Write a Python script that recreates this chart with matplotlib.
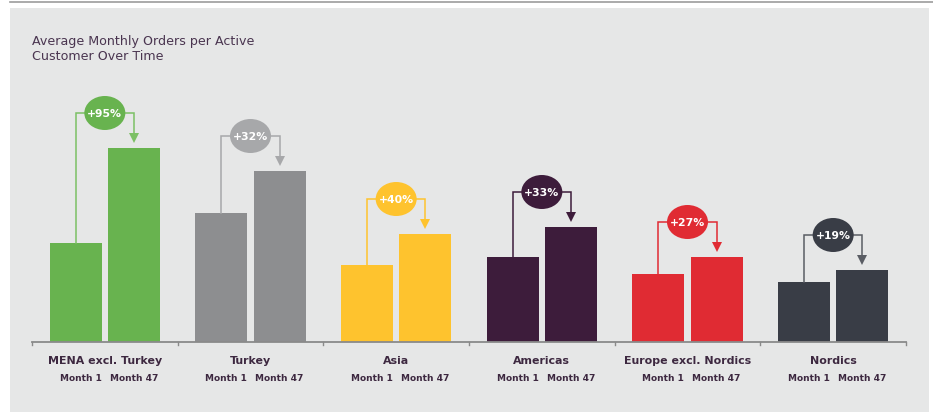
import numpy as np
import matplotlib.pyplot as plt
from matplotlib.patches import Ellipse, Rectangle
from matplotlib.lines import Line2D

# --- donnees (unites arbitraires) ---
regions = ["MENA excl. Turkey", "Turkey", "Asia", "Americas",
           "Europe excl. Nordics", "Nordics"]
month1 = [99, 129, 77, 85, 68, 60]
month47 = [194, 171, 108, 115, 85, 72]
growth = ["+95%", "+32%", "+40%", "+33%", "+27%", "+19%"]
period_labels = ["Month 1", "Month 47"]

bar_colors = ["#68b34f", "#8d8e90", "#fec32e", "#3d1c3b", "#e02b33", "#393d46"]
bubble_colors = ["#68b34f", "#a7a8aa", "#fec32e", "#3d1c3b", "#e02b33", "#393d46"]
line_colors = ["#7cc065", "#a7a8aa", "#fec32e", "#3d1c3b", "#e02b33", "#5a5d64"]

TEXT = "#3d2840"
PANEL = "#e6e7e7"

W, H = 933, 414
fig = plt.figure(figsize=(W / 100, H / 100), dpi=100)
fig.patch.set_facecolor("white")

# fond gris + filet du haut
fig.add_artist(Rectangle((10 / W, 1 - 413 / H), 919 / W, 404 / H,
                         transform=fig.transFigure, facecolor=PANEL,
                         edgecolor="none", zorder=-10))
fig.add_artist(Line2D([10 / W, 1], [1 - 3 / H, 1 - 3 / H],
                      transform=fig.transFigure, color="#9c9c9c", lw=1.2))

fig.text(32 / W, 1 - 35 / H, "Average Monthly Orders per Active\nCustomer Over Time",
         ha="left", va="top", fontsize=9.1, color="#4a3550", linespacing=1.15)

# axes : 1 unite y = 1 pixel
x0, x1, ybase, ytop = 32, 906, 343, 60
ax = fig.add_axes([x0 / W, 1 - ybase / H, (x1 - x0) / W, (ybase - ytop) / H])
ax.set_xlim(0, len(regions))
ax.set_ylim(0, ybase - ytop)
ax.axis("off")

px = len(regions) / (x1 - x0)  # unite x par pixel
n = len(regions)
centers = np.arange(n) + 0.5
off = 0.2
bw = 0.357

ax.bar(centers - off, month1, width=bw, color=bar_colors, zorder=2)
ax.bar(centers + off, month47, width=bw, color=bar_colors, zorder=2)

# axe de base avec petites graduations
ax.plot([0, n], [0, 0], color="#8a8a8a", lw=1.3, clip_on=False, zorder=3)
for b in range(n + 1):
    ax.plot([b, b], [0, -3], color="#8a8a8a", lw=1.0, clip_on=False, zorder=3)

for i in range(n):
    yl = month47[i] + 35
    c = line_colors[i]
    xa = centers[i] - off
    xb = centers[i] + off
    ax.plot([xa, xa, xb, xb], [month1[i], yl, yl, month47[i] + 10],
            color=c, lw=1.1, zorder=4, solid_joinstyle="miter")
    ax.plot(xb, month47[i] + 10, marker="v", ms=7, color=c, mew=0, zorder=4)
    ax.add_patch(Ellipse((centers[i], yl), 41 * px, 34, facecolor=bubble_colors[i],
                         edgecolor="none", zorder=5))
    ax.text(centers[i], yl, growth[i], ha="center", va="center", color="white",
            fontsize=7.8, fontweight="bold", zorder=6)

    ax.text(centers[i], -18, regions[i], ha="center", va="center", color=TEXT,
            fontsize=7.9, fontweight="bold", clip_on=False)
    ax.text(xa + 5 * px, -36, period_labels[0], ha="center", va="center",
            color=TEXT, fontsize=6.5, fontweight="bold", clip_on=False)
    ax.text(xb, -36, period_labels[1], ha="center", va="center",
            color=TEXT, fontsize=6.5, fontweight="bold", clip_on=False)

fig.savefig("out.png", dpi=100, facecolor=fig.get_facecolor())
